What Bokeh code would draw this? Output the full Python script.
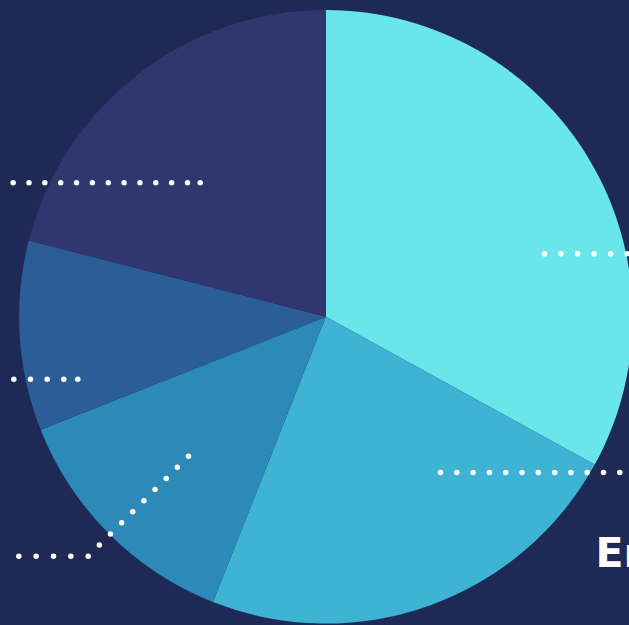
import numpy as np
from bokeh.plotting import figure
from bokeh.models import Range1d, ColumnDataSource, GlobalInlineStyleSheet
from bokeh.core.properties import value
from bokeh.embed import file_html
from bokeh.resources import INLINE

# ---------------- data ----------------
categories = ["Transport", "Energy", "Industry", "Buildings", "Agriculture"]
shares = [33, 23, 13, 10, 21]
slice_colors = ["#68e6e9", "#3fb3d3", "#2c89b8", "#2b5d98", "#30366e"]

# ---------------- layout / style ----------------
BG = "#1f2956"
W, H = 629, 625
CX, CY, R = 325.4, 316.3, 306.8          # pie centre / radius in page pixels

# dotted leader lines (page pixels, from the tip at the slice outwards)
leaders = [
    [(544.0, 253.3), (643.2, 253.3)],
    [(440.0, 472.0), (635.6, 472.0)],
    [(188.0, 455.7), (87.7, 555.7), (18.3, 555.7)],
    [(77.3, 378.7), (63.3, 378.7), (13.3, 378.7)],
    [(199.7, 182.3), (187.0, 182.3), (-3.2, 182.3)],
]
DOT_STEP = 16.3
label_pos = (595.0, 552.0)   # left / baseline of the visible label


def fy(y):  # page y (down) -> data y (up)
    return H - y


p = figure(width=W, height=H, x_range=Range1d(0, W), y_range=Range1d(0, H),
           output_backend="svg", toolbar_location=None, min_border=0,
           x_axis_location=None, y_axis_location=None)
p.grid.visible = False
p.outline_line_color = None
p.background_fill_color = BG
p.border_fill_color = BG
p.stylesheets = [GlobalInlineStyleSheet(
    css="html, body { margin: 0; padding: 0; background: %s; overflow: hidden; }" % BG)]

# pie slices
frac = np.array(shares, dtype=float) / sum(shares)
ends = np.cumsum(frac)
starts = ends - frac
src = ColumnDataSource(dict(
    cat=categories,
    start=np.pi / 2 - 2 * np.pi * starts,
    end=np.pi / 2 - 2 * np.pi * ends,
    color=slice_colors,
))
p.wedge(x=CX, y=fy(CY), radius=R, start_angle="start", end_angle="end",
        direction="clock", fill_color="color", line_color=None, source=src)

# dotted leaders
dx, dy = [], []
for pts in leaders:
    for i in range(len(pts) - 1):
        (x0, y0), (x1, y1) = pts[i], pts[i + 1]
        n = max(1, int(round(np.hypot(x1 - x0, y1 - y0) / DOT_STEP)))
        t = np.linspace(0, 1, n + 1)
        if i > 0:
            t = t[1:]
        dx.extend(x0 + (x1 - x0) * t)
        dy.extend(fy(y0 + (y1 - y0) * t))
p.scatter(x=dx, y=dy, size=5.5, marker="circle", fill_color="white", line_color=None)

# label (runs off the right edge)
p.text(x=[label_pos[0]], y=[fy(label_pos[1])], text=[categories[1]],
       text_font=value("DejaVu Sans"), text_font_style="bold",
       text_font_size="41px", text_color="white",
       text_align="left", text_baseline="alphabetic")

open("out.html", "w").write(file_html(p, INLINE))
